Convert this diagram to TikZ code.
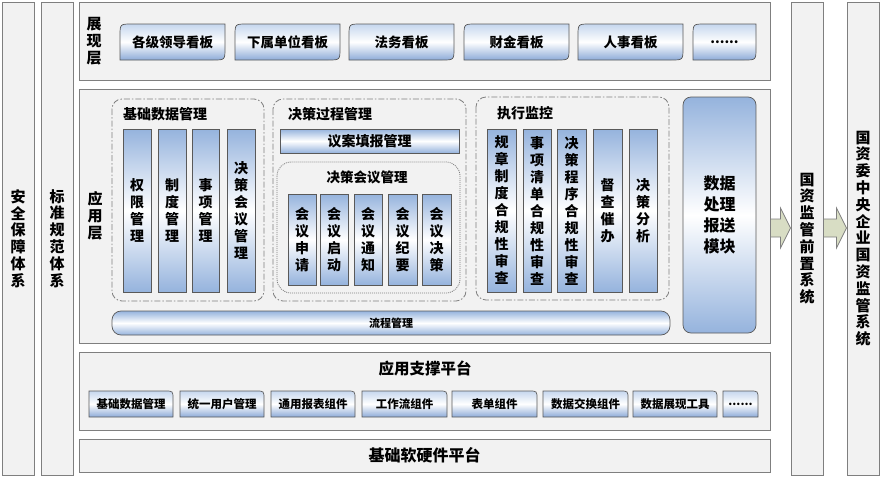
\documentclass[tikz,border=0pt]{standalone}
\usepackage{fontspec}
\setmainfont{Noto Sans CJK SC}
\usetikzlibrary{calc}

\definecolor{boxgray}{HTML}{F2F2F2}
\definecolor{linegray}{HTML}{7F7F7F}
\definecolor{colblue}{HTML}{95B3DD}
\definecolor{lightblue}{HTML}{C6D7EE}
\definecolor{deepblue}{HTML}{8DABD8}
\definecolor{arrowgreen}{HTML}{D8DDC4}

\newcommand\flowarrow[2]{%
\coordinate (#1tail) at (#1.east |- 0,228);
\coordinate (#1tip) at (#2.west |- 0,228);
\draw[arrowshape] ($(#1tail)+(0,-9)$) -- ($(#1tip)+(-10,-9)$) -- ($(#1tip)+(-10,-20)$) -- (#1tip)
  -- ($(#1tip)+(-10,20)$) -- ($(#1tip)+(-10,9)$) -- ($(#1tail)+(0,9)$) -- cycle;}

\begin{document}
\begin{tikzpicture}[x=1pt,y=-1pt,
  outer/.style={draw=linegray,fill=boxgray,line width=1pt,inner sep=0pt,align=center,
    font=\fontsize{15}{16.8}\selectfont\bfseries},
  group/.style={draw=linegray,line width=0.8pt,dash pattern=on 6pt off 2pt on 1.5pt off 2pt,rounded corners=10pt},
  dotgroup/.style={draw=linegray,line width=0.8pt,dash pattern=on 1pt off 1pt,rounded corners=14pt},
  title/.style={anchor=west,inner sep=0pt,font=\fontsize{14}{16}\selectfont\bfseries},
  col/.style={draw=black!65,line width=0.7pt,top color=colblue,bottom color=colblue,middle color=white,
    inner sep=0pt,align=center,font=\fontsize{14}{17}\selectfont\bfseries},
  bar/.style={col,font=\fontsize{14}{16}\selectfont\bfseries},
  itembox/.style={draw=black!65,line width=0.7pt,top color=lightblue,bottom color=deepblue,middle color=white},
  itemtext/.style={inner sep=0pt,font=\fontsize{13.5}{16}\selectfont\bfseries},
  arrowshape/.style={draw=linegray,fill=arrowgreen,line width=0.8pt}]
\useasboundingbox (0,0) rectangle (884,477);

% side columns
\node[outer,minimum width=32pt,minimum height=473pt] (safe) at (18,238.5) {安\\全\\保\\障\\体\\系};
\node[outer,minimum width=32pt,minimum height=473pt] (norm) at (57,238.5) {标\\准\\规\\范\\体\\系};
\node[outer,minimum width=32pt,minimum height=473pt] (front) at (807,238.5) {国\\资\\监\\管\\前\\置\\系\\统};
\node[outer,minimum width=32pt,minimum height=473pt] (sasac) at (863,238.5)
  {国\\资\\委\\中\\央\\企\\业\\国\\资\\监\\管\\系\\统};

% layers
\node[outer,minimum width=691pt,minimum height=78pt] (show) at (424.5,41) {};
\node[outer,minimum width=691pt,minimum height=254pt] (app) at (424.5,216) {};
\node[outer,minimum width=691pt,minimum height=78pt] (support) at (424.5,391) {};
\node[outer,minimum width=691pt,minimum height=33pt,font=\fontsize{16}{18}\selectfont\bfseries] (base)
  at (424.5,455.5) {基础软硬件平台};
\node[align=center,inner sep=0pt,font=\fontsize{15}{17}\selectfont\bfseries] (showlabel) at (94,41) {展\\现\\层};
\node[align=center,inner sep=0pt,font=\fontsize{15}{17}\selectfont\bfseries] (applabel) at (95,216) {应\\用\\层};
\node[inner sep=0pt,font=\fontsize{15.5}{17}\selectfont\bfseries] (suplabel) at (425,368) {应用支撑平台};

\flowarrow{app}{front}
\flowarrow{front}{sasac}

% display boards
\foreach \xa/\xb/\nm/\txt in {120/225/d1/各级领导看板,235/340/d2/下属单位看板,349/454/d3/法务看板,
  464/569/d4/财金看板,578/683/d5/人事看板,693/756/d6/{......}} {
\draw[itembox] (\xa,60) -- (\xa,36) .. controls (\xa,24) .. (\xa+12,24) -- (\xb,24) -- (\xb,48)
  .. controls (\xb,60) .. (\xb-12,60) -- cycle;
\node[itemtext] (\nm) at ({(\xa+\xb)/2},42) {\txt};
}

% application groups
\draw[group] (112,99) rectangle (264,301);
\draw[group] (273,99) rectangle (466,301);
\draw[dotgroup] (277,162) rectangle (460,293);
\draw[group] (476,97) rectangle (669,300);
\node[title] (basedata) at (123,114) {基础数据管理};
\node[title] (process) at (288,114) {决策过程管理};
\node[title,anchor=center,font=\fontsize{13.5}{16}\selectfont\bfseries] (meeting) at (367,177) {决策会议管理};
\node[title] (monitor) at (497,113) {执行监控};

\foreach \xa/\xb/\nm/\txt in {123/151/b1/{权\\限\\管\\理},158/186/b2/{制\\度\\管\\理},
  192/219/b3/{事\\项\\管\\理},227/255/b4/{决\\策\\会\\议\\管\\理}}
\node[col,minimum width={\xb-\xa},minimum height=163pt] (\nm) at ({(\xa+\xb)/2},210.5) {\txt};

\node[bar,minimum width=179pt,minimum height=24pt] (proposal) at (369.5,141) {议案填报管理};
\foreach \xa/\xb/\nm/\txt in {288/316/m1/{会\\议\\申\\请},320/348/m2/{会\\议\\启\\动},
  354/382/m3/{会\\议\\通\\知},388/417/m4/{会\\议\\纪\\要},422/451/m5/{会\\议\\决\\策}}
\node[col,minimum width={\xb-\xa},minimum height=91pt] (\nm) at ({(\xa+\xb)/2},239.5) {\txt};

\foreach \xa/\xb/\nm/\txt in {487/516/e1/{规\\章\\制\\度\\合\\规\\性\\审\\查},
  523/551/e2/{事\\项\\清\\单\\合\\规\\性\\审\\查},557/586/e3/{决\\策\\程\\序\\合\\规\\性\\审\\查},
  593/622/e4/{督\\查\\催\\办},629/657/e5/{决\\策\\分\\析}}
\node[col,minimum width={\xb-\xa},minimum height=163pt] (\nm) at ({(\xa+\xb)/2},210.5) {\txt};

\node[col,rounded corners=8pt,minimum width=73pt,minimum height=236pt,
  font=\fontsize{16}{21}\selectfont\bfseries] (report) at (719.5,215) {数据\\处理\\报送\\模块};
\node[bar,rounded corners=9pt,minimum width=558pt,minimum height=24pt,
  font=\fontsize{11}{13}\selectfont\bfseries] (flow) at (391,323) {流程管理};

% support components
\foreach \xa/\xb/\nm/\txt in {89/173/s1/基础数据管理,180/264/s2/统一用户管理,271/355/s3/通用报表组件,
  362/447/s4/工作流组件,452/537/s5/表单组件,543/628/s6/数据交换组件,633/717/s7/数据展现工具,723/758/s8/{......}} {
\draw[itembox] (\xa,391) -- (\xb-8,391) .. controls (\xb,391) .. (\xb,399) -- (\xb,417) -- (\xa,417) -- cycle;
\node[itemtext,font=\fontsize{11.5}{13}\selectfont\bfseries] (\nm) at ({(\xa+\xb)/2},404) {\txt};
}
\end{tikzpicture}
\end{document}
